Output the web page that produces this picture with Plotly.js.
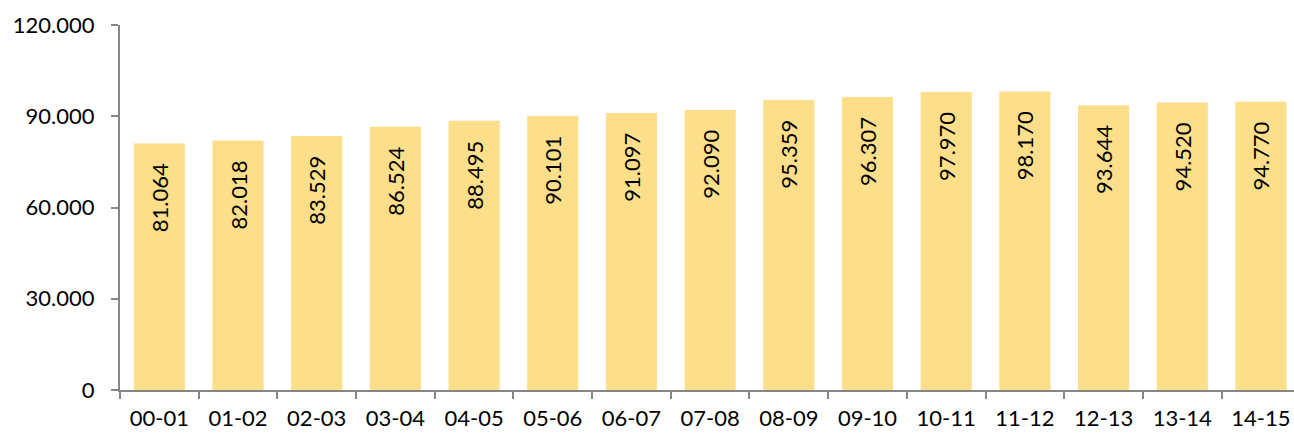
<!DOCTYPE html>
<html><head><meta charset="utf-8">
<script src="https://cdn.plot.ly/plotly-3.0.1.min.js"></script>
<style>html,body{margin:0;padding:0;background:#fff;}#chart{width:1294px;height:437px;}</style>
</head><body><div id="chart"></div>
<script>
const categories = ["00-01","01-02","02-03","03-04","04-05","05-06","06-07","07-08","08-09","09-10","10-11","11-12","12-13","13-14","14-15"];
const values = [81064,82018,83529,86524,88495,90101,91097,92090,95359,96307,97970,98170,93644,94520,94770];
const yTickVals = [0,30000,60000,90000,120000];

const font = {family: "Lato, 'Open Sans', sans-serif", size: 22, color: "#000"};
Plotly.newPlot("chart", [{
  type: "bar",
  x: categories,
  y: values,
  marker: {color: "#FDDE8A"},
  texttemplate: "%{y:,}\u00a0\u00a0\u00a0",
  textposition: "inside",
  insidetextanchor: "end",
  textangle: -90,
  textfont: font,
  cliponaxis: false,
  hoverinfo: "none"
}], {
  width: 1294, height: 437,
  margin: {l: 120, r: 0, t: 25, b: 47},
  separators: ",.",
  bargap: 0.35,
  showlegend: false,
  paper_bgcolor: "#fff", plot_bgcolor: "#fff",
  font: font,
  xaxis: {
    type: "category",
    range: [-0.5, 14.42],
    showline: true, linecolor: "#868686", linewidth: 2,
    ticks: "outside", tickson: "boundaries", ticklen: 7, tickcolor: "#868686", tickwidth: 2,
    showgrid: false, zeroline: false,
    ticklabelstandoff: 8,
    tickfont: font
  },
  yaxis: {
    range: [0, 120000],
    tickvals: yTickVals, tickformat: ",",
    showline: true, linecolor: "#868686", linewidth: 2,
    ticks: "outside", ticklen: 7, tickcolor: "#868686", tickwidth: 2,
    showgrid: false, zeroline: false,
    ticklabelstandoff: 12,
    tickfont: font
  }
}, {staticPlot: true});
</script></body></html>
